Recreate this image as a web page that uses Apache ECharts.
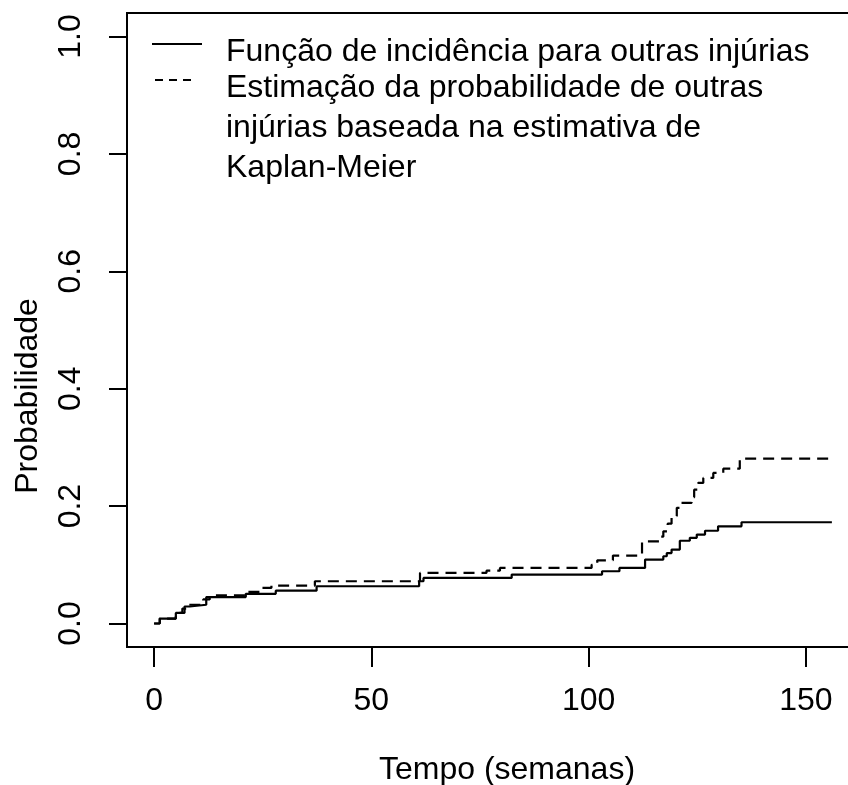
<!DOCTYPE html>
<html>
<head>
<meta charset="utf-8">
<script src="https://cdn.jsdelivr.net/npm/echarts@6/dist/echarts.min.js"></script>
<style>
  html, body { margin: 0; padding: 0; background: #fff; }
  #chart { width: 848px; height: 785px; }
</style>
</head>
<body>
<div id="chart"></div>
<script>
// Cumulative incidence of "other injuries" (step function change points)
var timesIncidence = [0, 1.3, 5.0, 7.0, 8.2, 12.0, 21.1, 28.0, 37.4, 61.0, 62.0, 82.3,
  103.1, 107.1, 113.0, 117.2, 118.0, 119.1, 121.0, 123.3, 124.9, 126.8, 129.8, 135.2, 156];
var probIncidence = [0, 0.0085, 0.018, 0.029, 0.032, 0.045, 0.0505, 0.056, 0.0635, 0.072, 0.0777, 0.0834,
  0.089, 0.0947, 0.109, 0.1146, 0.12, 0.126, 0.141, 0.146, 0.1515, 0.158, 0.1656, 0.1725, 0.1725];

// 1 - Kaplan-Meier estimate treating other injuries as the event
var timesKM = [0, 1.3, 5.0, 6.5, 8.0, 11.3, 12.8, 21.0, 24.3, 27.0, 37.0, 61.2, 76.5, 79.6,
  100.7, 102.0, 105.6, 112.3, 116.2, 117.2, 118.2, 119.1, 120.3, 121.2, 123.7, 124.3, 125.2,
  126.4, 128.7, 131.0, 134.8, 156];
var probKM = [0, 0.0085, 0.018, 0.0255, 0.032, 0.041, 0.048, 0.054, 0.0607, 0.0647, 0.072, 0.0862, 0.090, 0.0947,
  0.100, 0.1077, 0.1157, 0.140, 0.148, 0.157, 0.170, 0.183, 0.197, 0.2054, 0.215, 0.228, 0.2395,
  0.248, 0.2565, 0.2638, 0.281, 0.281];

var xTicks = [0, 50, 100, 150];
var yTicks = [0, 0.2, 0.4, 0.6, 0.8, 1.0];

var legendLabels = [
  'Função de incidência para outras injúrias',
  'Estimação da probabilidade de outras\ninjúrias baseada na estimativa de\nKaplan-Meier'
];
var xTitle = 'Tempo (semanas)';
var yTitle = 'Probabilidade';

var FONT = '"Liberation Sans", Arial, Helvetica, sans-serif';

function pairs(xs, ys) {
  return xs.map(function (t, i) { return [t, ys[i]]; });
}

var chart = echarts.init(document.getElementById('chart'), null, { renderer: 'canvas' });

var legendLines = legendLabels[1].split('\n');

chart.setOption({
  animation: false,
  backgroundColor: '#ffffff',
  grid: {
    left: 127, top: 13, right: -11, bottom: 138,
    outerBoundsMode: 'none', containLabel: false,
    show: true, borderColor: '#000', borderWidth: 2, backgroundColor: 'transparent'
  },
  xAxis: {
    type: 'value',
    min: -6.24, max: 162.24,
    axisLine: { show: false, onZero: false },
    splitLine: { show: false },
    axisTick: { show: true, inside: false, length: 20, lineStyle: { color: '#000', width: 2 }, customValues: xTicks },
    axisLabel: {
      customValues: xTicks, margin: 38,
      fontFamily: FONT, fontSize: 32, color: '#000'
    }
  },
  yAxis: {
    type: 'value',
    min: -0.04, max: 1.04,
    axisLine: { show: false, onZero: false },
    splitLine: { show: false },
    axisTick: { show: true, inside: false, length: 18, lineStyle: { color: '#000', width: 2 }, customValues: yTicks },
    axisLabel: {
      customValues: yTicks, margin: 40, rotate: 90,
      fontFamily: FONT, fontSize: 32, color: '#000',
      formatter: function (v) { return v.toFixed(1); }
    }
  },
  series: [
    {
      name: legendLabels[0],
      type: 'line',
      step: 'end',
      data: pairs(timesIncidence, probIncidence),
      showSymbol: false,
      lineStyle: { color: '#000', width: 2.2, type: 'solid' }
    },
    {
      name: legendLabels[1],
      type: 'line',
      step: 'end',
      data: pairs(timesKM, probKM),
      showSymbol: false,
      lineStyle: { color: '#000', width: 2.2, type: [11, 7] }
    }
  ],
  graphic: [
    // axis titles
    {
      type: 'text',
      style: { text: xTitle, x: 507, y: 770, align: 'center', verticalAlign: 'middle',
               font: '32px ' + FONT, fill: '#000' },
      silent: true
    },
    {
      type: 'text', x: 28, y: 396, rotation: Math.PI / 2,
      style: { text: yTitle, x: 0, y: 0, align: 'center', verticalAlign: 'middle',
               font: '32px ' + FONT, fill: '#000' },
      silent: true
    },
    // legend keys
    {
      type: 'line', shape: { x1: 152, y1: 44, x2: 202, y2: 44 },
      style: { stroke: '#000', lineWidth: 2.2 }, silent: true
    },
    {
      type: 'line', shape: { x1: 155, y1: 80, x2: 192, y2: 80 },
      style: { stroke: '#000', lineWidth: 2.2, lineDash: [8, 6] }, silent: true
    },
    // legend text
    {
      type: 'text', style: { text: legendLabels[0], x: 226, y: 52, verticalAlign: 'middle',
                             font: '32px ' + FONT, fill: '#000' }, silent: true
    },
    {
      type: 'text', style: { text: legendLines[0], x: 226, y: 88, verticalAlign: 'middle',
                             font: '32px ' + FONT, fill: '#000' }, silent: true
    },
    {
      type: 'text', style: { text: legendLines[1], x: 226, y: 128, verticalAlign: 'middle',
                             font: '32px ' + FONT, fill: '#000' }, silent: true
    },
    {
      type: 'text', style: { text: legendLines[2], x: 226, y: 168, verticalAlign: 'middle',
                             font: '32px ' + FONT, fill: '#000' }, silent: true
    }
  ]
});
</script>
</body>
</html>
